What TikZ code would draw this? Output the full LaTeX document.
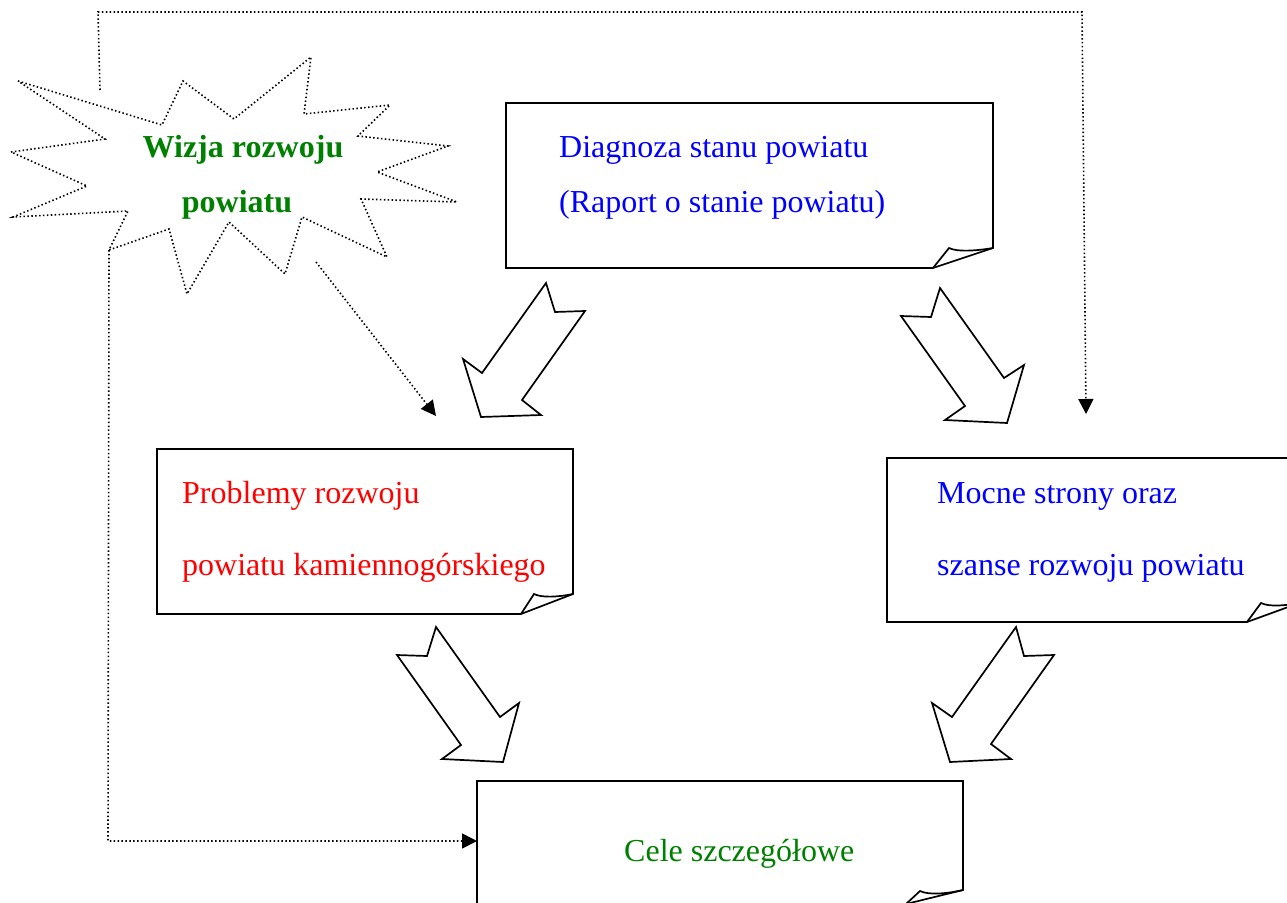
\documentclass[tikz,border=0pt]{standalone}
\usepackage{fontspec}
\setmainfont{Liberation Serif}
\usepackage{xcolor}
\usepackage{tikz}
\usetikzlibrary{arrows.meta}
\definecolor{zielony}{RGB}{0,128,0}

\begin{document}
\begin{tikzpicture}[x=1pt,y=-1pt,
		txt/.style={inner sep=0pt,anchor=base west,font=\fontsize{32}{38}\selectfont},
		dots/.style={line width=1.6pt,dash pattern=on 1.5pt off 2.4pt},
		frame/.style={line width=1.7pt,line join=miter},
		blockarrow/.style={line width=1.7pt,line join=miter},
		tip/.style={-{Triangle[length=15pt,width=15pt]}}]
		\path[use as bounding box,clip] (0,0) rectangle (1287,902);
		%
		% wizja (gwiazda)
		\draw[dots] (18,81) -- (162,125) -- (183,81) -- (234,119) -- (311,57) -- (304,114)
		-- (390,105) -- (358,136) -- (448,146) -- (377,172) -- (457,202) -- (361,199)
		-- (387,257) -- (302,217) -- (285,274) -- (229,222) -- (187,294) -- (169,229)
		-- (109,250) -- (128,211) -- (13,217) -- (87,186) -- (11,152) -- (105,139) -- cycle;
		\node[txt,anchor=base,text=zielony,font=\fontsize{32}{38}\selectfont\bfseries] (wizja1) at (243,157) {Wizja rozwoju};
		\node[txt,anchor=base,text=zielony,font=\fontsize{32}{38}\selectfont\bfseries] (wizja2) at (237,212) {powiatu};
		%
		% diagnoza
		\draw[frame] (506,103) -- (993,103) -- (993,248) -- (933,268) -- (506,268) -- cycle;
		\draw[frame] (933,268) -- (949,248) .. controls (957,252) and (975,251) .. (993,248);
		\node[txt,text=blue] (diag1) at (559,157) {Diagnoza stanu powiatu};
		\node[txt,text=blue] (diag2) at (559,212) {(Raport o stanie powiatu)};
		%
		% problemy
		\draw[frame] (157,449) -- (573,449) -- (573,594) -- (521,614) -- (157,614) -- cycle;
		\draw[frame] (521,614) -- (534,594) .. controls (542,598) and (558,597) .. (573,594);
		\node[txt,text=red] (prob1) at (182,503) {Problemy rozwoju};
		\node[txt,text=red] (prob2) at (182,575) {powiatu kamiennogórskiego};
		%
		% mocne strony
		\draw[frame] (887,458) -- (1302,458) -- (1302,602) -- (1247,622) -- (887,622) -- cycle;
		\draw[frame] (1247,622) -- (1261,603) .. controls (1269,607) and (1286,606) .. (1302,602);
		\node[txt,text=blue] (mocne1) at (937,503) {Mocne strony oraz};
		\node[txt,text=blue] (mocne2) at (937,575) {szanse rozwoju powiatu};
		%
		% cele
		\draw[frame] (477,781) -- (963,781) -- (963,890) -- (906,904) -- (477,904) -- cycle;
		\draw[frame] (906,904) -- (920,891) .. controls (928,895) and (946,894) .. (963,890);
		\node[txt,text=zielony] (cele) at (624,861) {Cele szczegółowe};
		%
		% strzalki blokowe
		\draw[blockarrow] (546,283) -- (555,312) -- (585,311) -- (522,400) -- (541,415)
		-- (481,417) -- (463,359) -- (482,373) -- cycle;
		\draw[blockarrow] (940,288) -- (1004,378) -- (1024,365) -- (1007,423) -- (945,420)
		-- (965,406) -- (901,316) -- (931,317) -- cycle;
		\draw[blockarrow] (436,627) -- (500,717) -- (519,703) -- (503,762) -- (442,759)
		-- (461,745) -- (397,655) -- (427,656) -- cycle;
		\draw[blockarrow] (1016,627) -- (1024,656) -- (1054,655) -- (991,744) -- (1011,759)
		-- (950,762) -- (932,703) -- (952,717) -- cycle;
		%
		% polaczenia kropkowane
		\coordinate (wizjaN) at (100,90);
		\coordinate (wizjaSW) at (109,250);
		\coordinate (wizjaSE) at (316,262);
		\coordinate (probN) at (436,416);
		\coordinate (mocneN) at (1086,414);
		\coordinate (celeW) at (477,841);
		\draw[dots,tip] (wizjaN) -- (98,12) -- (1082,12) -- (mocneN);
		\draw[dots,tip] (wizjaSW) -- (108,841) -- (celeW);
		\draw[dots,tip] (wizjaSE) -- (probN);
	\end{tikzpicture}
\end{document}
